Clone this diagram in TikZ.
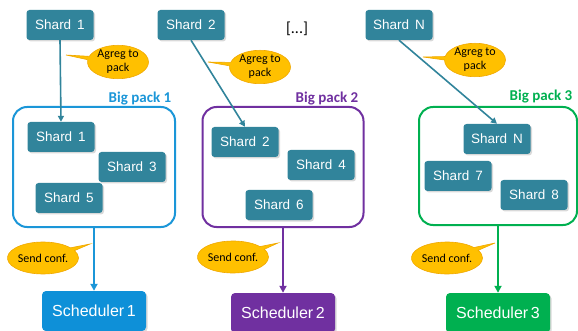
\documentclass[tikz,border=0pt]{standalone}
\usepackage{fontspec}
\setmainfont{Liberation Sans}
\newfontfamily\calib{Carlito}
\usetikzlibrary{shapes,shapes.callouts,arrows.meta,positioning,shadows}

\definecolor{shardteal}{HTML}{31849B}
\definecolor{packblue}{HTML}{1B96D8}
\definecolor{schedblue}{HTML}{0E90D8}
\definecolor{packpurple}{HTML}{7030A0}
\definecolor{packgreen}{HTML}{00B050}
\definecolor{calloutfill}{HTML}{FFC000}
\definecolor{calloutline}{HTML}{F0A800}

\begin{document}
\begin{tikzpicture}[x=1pt, y=-1pt,
    shard/.style={fill=shardteal, text=white, rounded corners=3pt,
        minimum width=67pt, minimum height=30pt, inner sep=0pt,
        font=\fontsize{13.5}{15}\selectfont,
        drop shadow={shadow xshift=1.5pt, shadow yshift=-1.5pt, opacity=0.3}},
    pack/.style={draw=#1, line width=2pt, rounded corners=14pt, inner sep=0pt},
    packlabel/.style={text=#1, font=\calib\bfseries\fontsize{15}{17}\selectfont},
    sched/.style={fill=#1, text=white, rounded corners=4pt,
        minimum width=104pt, minimum height=40pt, inner sep=0pt,
        font=\fontsize{16}{18}\selectfont,
        drop shadow={shadow xshift=1.5pt, shadow yshift=-1.5pt, opacity=0.3}},
    note/.style={ellipse callout, fill=calloutfill, draw=calloutline, line width=0.6pt,
        inner sep=0pt, minimum width=61pt, minimum height=32pt, align=center,
        font=\calib\fontsize{12}{14}\selectfont, callout pointer arc=12},
    link/.style={draw=shardteal, line width=1.6pt, -{Triangle[length=6pt,width=6pt]}},
    down/.style={draw=#1, line width=2pt, -{Triangle[length=7pt,width=7pt]}}]

    \useasboundingbox (0,0) rectangle (578,331);

    % incoming shards
    \node[shard] (s1) at (60,25) {Shard\, 1};
    \node[shard] (s2) at (191,25) {Shard\, 2};
    \node[shard] (sN) at (399,25) {Shard\, N};
    \node[font=\calib\fontsize{16}{18}\selectfont] (dots) at (297,29) {[...]};

    % big packs
    \node[pack=packblue, minimum width=162pt, minimum height=120pt] (b1) at (94,167) {};
    \node[pack=packpurple, minimum width=161pt, minimum height=120pt] (b2) at (283,167) {};
    \node[pack=packgreen, minimum width=158pt, minimum height=118pt] (b3) at (498,166) {};
    \node[packlabel=packblue] (l1) at (140,99) {Big pack 1};
    \node[packlabel=packpurple] (l2) at (327,99) {Big pack 2};
    \node[packlabel=packgreen] (l3) at (541,97) {Big pack 3};

    % shards inside the packs
    \foreach \n/\x/\y in {1/61/137, 3/132/167, 5/69/198,
                          2/245/142, 4/321/165, 6/279/205,
                          N/497/139, 7/458/176, 8/534/195}
        \node[shard] (p\n) at (\x,\y) {Shard\, \n};

    % schedulers
    \node[sched=schedblue] (c1) at (94,311) {Scheduler\,1};
    \node[sched=packpurple] (c2) at (283,313) {Scheduler\,2};
    \node[sched=packgreen] (c3) at (498,313) {Scheduler\,3};

    % arrows
    \draw[link] (s1.south) -- (p1.north);
    \draw[link] (s2.south) -- (p2.north);
    \draw[link] (sN.south) -- (pN.north);
    \draw[down=packblue] (b1.south) -- (c1.north);
    \draw[down=packpurple] (b2.south) -- (c2.north);
    \draw[down=packgreen] (b3.south) -- (c3.north);

    % callouts
    \coordinate (t1) at (66,55);
    \coordinate (t2) at (208,62);
    \coordinate (t3) at (423,57);
    \coordinate (u1) at (90,244);
    \coordinate (u2) at (278,243);
    \coordinate (u3) at (495,243);
    \node[note, callout absolute pointer={(t1)}] (a1) at (118,62) {Agreg to\\pack};
    \node[note, callout absolute pointer={(t2)}] (a2) at (260,67) {Agreg to\\pack};
    \node[note, callout absolute pointer={(t3)}] (a3) at (475,60) {Agreg to\\pack};
    \node[note, callout absolute pointer={(u1)}] (n1) at (43,258) {Send conf.};
    \node[note, callout absolute pointer={(u2)}] (n2) at (233,257) {Send conf.};
    \node[note, callout absolute pointer={(u3)}] (n3) at (447,258) {Send conf.};
\end{tikzpicture}
\end{document}
